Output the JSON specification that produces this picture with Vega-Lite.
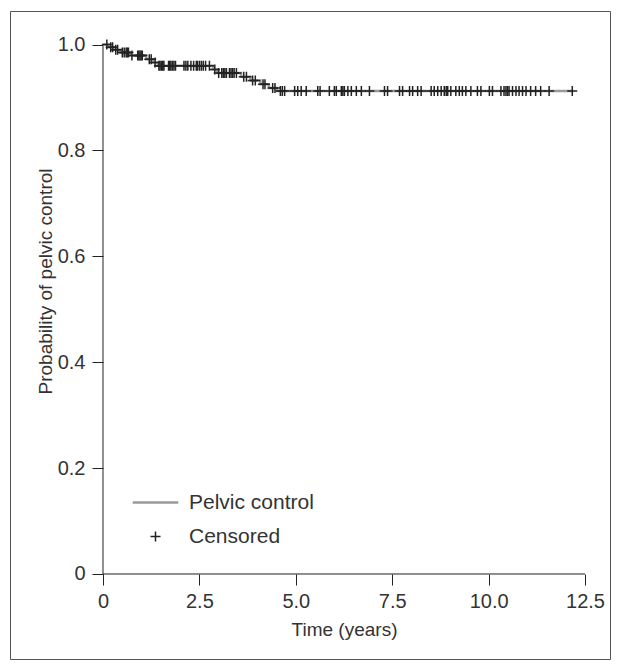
{
  "$schema": "https://vega.github.io/schema/vega-lite/v6.json",
  "width": 600,
  "height": 648,
  "autosize": {"type": "none"},
  "padding": {"left": 10, "top": 11, "right": 10, "bottom": 9},
  "background": "white",
  "config": {
    "view": {"stroke": "#555555", "strokeWidth": 1},
    "font": "Liberation Sans",
    "axis": {
      "grid": false,
      "domain": false,
      "tickColor": "#222222",
      "tickSize": 11,
      "tickWidth": 1,
      "labelFont": "Liberation Sans",
      "labelFontSize": 20,
      "labelColor": "#333333",
      "titleFont": "Liberation Sans",
      "titleFontSize": 19,
      "titleFontWeight": "normal",
      "titleColor": "#333333"
    },
    "legend": {
      "labelFont": "Liberation Sans",
      "labelFontSize": 21,
      "labelColor": "#333333",
      "symbolStrokeWidth": 1.5,
      "symbolSize": 100,
      "padding": 0
    }
  },
  "datasets": {
    "curve": [
      {"t": 0, "s": 1.0},
      {"t": 0.14, "s": 0.995},
      {"t": 0.3, "s": 0.99},
      {"t": 0.45, "s": 0.985},
      {"t": 0.7, "s": 0.979},
      {"t": 1.12, "s": 0.972},
      {"t": 1.3, "s": 0.966},
      {"t": 1.42, "s": 0.96},
      {"t": 2.85, "s": 0.953},
      {"t": 2.96, "s": 0.946},
      {"t": 3.58, "s": 0.939},
      {"t": 3.82, "s": 0.932},
      {"t": 4.08, "s": 0.925},
      {"t": 4.3, "s": 0.918},
      {"t": 4.52, "s": 0.912},
      {"t": 12.2, "s": 0.912}
    ],
    "censor": [
      {"t": 0.1, "s": 1.0, "series": "Censored"},
      {"t": 0.2, "s": 0.995, "series": "Censored"},
      {"t": 0.25, "s": 0.995, "series": "Censored"},
      {"t": 0.33, "s": 0.99, "series": "Censored"},
      {"t": 0.38, "s": 0.99, "series": "Censored"},
      {"t": 0.5, "s": 0.985, "series": "Censored"},
      {"t": 0.55, "s": 0.985, "series": "Censored"},
      {"t": 0.6, "s": 0.985, "series": "Censored"},
      {"t": 0.63, "s": 0.985, "series": "Censored"},
      {"t": 0.66, "s": 0.985, "series": "Censored"},
      {"t": 0.75, "s": 0.979, "series": "Censored"},
      {"t": 0.9, "s": 0.979, "series": "Censored"},
      {"t": 0.93, "s": 0.979, "series": "Censored"},
      {"t": 0.96, "s": 0.979, "series": "Censored"},
      {"t": 0.99, "s": 0.979, "series": "Censored"},
      {"t": 1.02, "s": 0.979, "series": "Censored"},
      {"t": 1.2, "s": 0.972, "series": "Censored"},
      {"t": 1.25, "s": 0.972, "series": "Censored"},
      {"t": 1.35, "s": 0.966, "series": "Censored"},
      {"t": 1.45, "s": 0.96, "series": "Censored"},
      {"t": 1.48, "s": 0.96, "series": "Censored"},
      {"t": 1.52, "s": 0.96, "series": "Censored"},
      {"t": 1.55, "s": 0.96, "series": "Censored"},
      {"t": 1.58, "s": 0.96, "series": "Censored"},
      {"t": 1.7, "s": 0.96, "series": "Censored"},
      {"t": 1.73, "s": 0.96, "series": "Censored"},
      {"t": 1.76, "s": 0.96, "series": "Censored"},
      {"t": 1.8, "s": 0.96, "series": "Censored"},
      {"t": 1.84, "s": 0.96, "series": "Censored"},
      {"t": 1.88, "s": 0.96, "series": "Censored"},
      {"t": 2.1, "s": 0.96, "series": "Censored"},
      {"t": 2.15, "s": 0.96, "series": "Censored"},
      {"t": 2.2, "s": 0.96, "series": "Censored"},
      {"t": 2.28, "s": 0.96, "series": "Censored"},
      {"t": 2.35, "s": 0.96, "series": "Censored"},
      {"t": 2.42, "s": 0.96, "series": "Censored"},
      {"t": 2.45, "s": 0.96, "series": "Censored"},
      {"t": 2.5, "s": 0.96, "series": "Censored"},
      {"t": 2.55, "s": 0.96, "series": "Censored"},
      {"t": 2.6, "s": 0.96, "series": "Censored"},
      {"t": 2.66, "s": 0.96, "series": "Censored"},
      {"t": 2.76, "s": 0.96, "series": "Censored"},
      {"t": 2.9, "s": 0.953, "series": "Censored"},
      {"t": 3.0, "s": 0.946, "series": "Censored"},
      {"t": 3.08, "s": 0.946, "series": "Censored"},
      {"t": 3.12, "s": 0.946, "series": "Censored"},
      {"t": 3.16, "s": 0.946, "series": "Censored"},
      {"t": 3.2, "s": 0.946, "series": "Censored"},
      {"t": 3.28, "s": 0.946, "series": "Censored"},
      {"t": 3.32, "s": 0.946, "series": "Censored"},
      {"t": 3.36, "s": 0.946, "series": "Censored"},
      {"t": 3.4, "s": 0.946, "series": "Censored"},
      {"t": 3.46, "s": 0.946, "series": "Censored"},
      {"t": 3.65, "s": 0.939, "series": "Censored"},
      {"t": 3.72, "s": 0.939, "series": "Censored"},
      {"t": 3.88, "s": 0.932, "series": "Censored"},
      {"t": 3.95, "s": 0.932, "series": "Censored"},
      {"t": 4.15, "s": 0.925, "series": "Censored"},
      {"t": 4.2, "s": 0.925, "series": "Censored"},
      {"t": 4.4, "s": 0.918, "series": "Censored"},
      {"t": 4.46, "s": 0.918, "series": "Censored"},
      {"t": 4.6, "s": 0.912, "series": "Censored"},
      {"t": 4.65, "s": 0.912, "series": "Censored"},
      {"t": 4.71, "s": 0.912, "series": "Censored"},
      {"t": 4.97, "s": 0.912, "series": "Censored"},
      {"t": 5.05, "s": 0.912, "series": "Censored"},
      {"t": 5.14, "s": 0.912, "series": "Censored"},
      {"t": 5.27, "s": 0.912, "series": "Censored"},
      {"t": 5.57, "s": 0.912, "series": "Censored"},
      {"t": 5.63, "s": 0.912, "series": "Censored"},
      {"t": 5.87, "s": 0.912, "series": "Censored"},
      {"t": 6.0, "s": 0.912, "series": "Censored"},
      {"t": 6.05, "s": 0.912, "series": "Censored"},
      {"t": 6.18, "s": 0.912, "series": "Censored"},
      {"t": 6.22, "s": 0.912, "series": "Censored"},
      {"t": 6.26, "s": 0.912, "series": "Censored"},
      {"t": 6.35, "s": 0.912, "series": "Censored"},
      {"t": 6.44, "s": 0.912, "series": "Censored"},
      {"t": 6.57, "s": 0.912, "series": "Censored"},
      {"t": 6.7, "s": 0.912, "series": "Censored"},
      {"t": 6.91, "s": 0.912, "series": "Censored"},
      {"t": 7.3, "s": 0.912, "series": "Censored"},
      {"t": 7.38, "s": 0.912, "series": "Censored"},
      {"t": 7.69, "s": 0.912, "series": "Censored"},
      {"t": 7.77, "s": 0.912, "series": "Censored"},
      {"t": 7.95, "s": 0.912, "series": "Censored"},
      {"t": 8.03, "s": 0.912, "series": "Censored"},
      {"t": 8.16, "s": 0.912, "series": "Censored"},
      {"t": 8.25, "s": 0.912, "series": "Censored"},
      {"t": 8.51, "s": 0.912, "series": "Censored"},
      {"t": 8.59, "s": 0.912, "series": "Censored"},
      {"t": 8.68, "s": 0.912, "series": "Censored"},
      {"t": 8.77, "s": 0.912, "series": "Censored"},
      {"t": 8.85, "s": 0.912, "series": "Censored"},
      {"t": 8.9, "s": 0.912, "series": "Censored"},
      {"t": 8.94, "s": 0.912, "series": "Censored"},
      {"t": 9.02, "s": 0.912, "series": "Censored"},
      {"t": 9.15, "s": 0.912, "series": "Censored"},
      {"t": 9.24, "s": 0.912, "series": "Censored"},
      {"t": 9.32, "s": 0.912, "series": "Censored"},
      {"t": 9.41, "s": 0.912, "series": "Censored"},
      {"t": 9.54, "s": 0.912, "series": "Censored"},
      {"t": 9.71, "s": 0.912, "series": "Censored"},
      {"t": 9.8, "s": 0.912, "series": "Censored"},
      {"t": 10.02, "s": 0.912, "series": "Censored"},
      {"t": 10.1, "s": 0.912, "series": "Censored"},
      {"t": 10.32, "s": 0.912, "series": "Censored"},
      {"t": 10.4, "s": 0.912, "series": "Censored"},
      {"t": 10.45, "s": 0.912, "series": "Censored"},
      {"t": 10.49, "s": 0.912, "series": "Censored"},
      {"t": 10.53, "s": 0.912, "series": "Censored"},
      {"t": 10.62, "s": 0.912, "series": "Censored"},
      {"t": 10.71, "s": 0.912, "series": "Censored"},
      {"t": 10.79, "s": 0.912, "series": "Censored"},
      {"t": 10.88, "s": 0.912, "series": "Censored"},
      {"t": 10.97, "s": 0.912, "series": "Censored"},
      {"t": 11.09, "s": 0.912, "series": "Censored"},
      {"t": 11.22, "s": 0.912, "series": "Censored"},
      {"t": 11.35, "s": 0.912, "series": "Censored"},
      {"t": 11.57, "s": 0.912, "series": "Censored"},
      {"t": 12.17, "s": 0.912, "series": "Censored"}
    ]
  },
  "layer": [
    {
      "data": {"values": [{}]},
      "mark": {"type": "rule", "color": "#222222", "strokeWidth": 1},
      "encoding": {"x": {"datum": 0}, "y": {"datum": 0}, "y2": {"datum": 1}}
    },
    {
      "data": {"values": [{}]},
      "mark": {"type": "rule", "color": "#222222", "strokeWidth": 1},
      "encoding": {"x": {"datum": 0}, "x2": {"datum": 12.5}, "y": {"datum": 0}}
    },
    {
      "data": {"name": "curve"},
      "mark": {"type": "line", "interpolate": "step-after", "color": "#9a9a9a", "strokeWidth": 2.5},
      "encoding": {
        "x": {
          "field": "t",
          "type": "quantitative",
          "scale": {"domain": [-2.4118, 13.1483], "nice": false, "zero": false},
          "axis": {
            "values": [0, 2.5, 5, 7.5, 10, 12.5],
            "labelExpr": "datum.value == 0 ? '0' : format(datum.value, '.1f')",
            "offset": -85,
            "labelPadding": 6,
            "title": "Time (years)",
            "titleX": 334,
            "titleY": 61,
            "titleBaseline": "alphabetic",
            "titleAlign": "center"
          }
        },
        "y": {
          "field": "s",
          "type": "quantitative",
          "scale": {"domain": [-0.16053, 1.06327], "nice": false, "zero": false},
          "axis": {
            "values": [0, 0.2, 0.4, 0.6, 0.8, 1],
            "labelExpr": "datum.value == 0 ? '0' : format(datum.value, '.1f')",
            "offset": -93,
            "labelPadding": 7,
            "title": "Probability of pelvic control",
            "titleX": -52,
            "titleY": 270,
            "titleAngle": -90,
            "titleBaseline": "alphabetic",
            "titleAlign": "center"
          }
        }
      }
    },
    {
      "data": {"name": "censor"},
      "mark": {"type": "point", "filled": false, "strokeWidth": 1.5, "size": 100, "opacity": 1},
      "encoding": {
        "x": {"field": "t", "type": "quantitative"},
        "y": {"field": "s", "type": "quantitative"},
        "shape": {
          "field": "series",
          "type": "nominal",
          "scale": {
            "domain": ["Pelvic control", "Censored"],
            "range": ["M-4.56,-0.1H4.56M-4.56,0.1H4.56", "M-1,0H1M0,-1V1"]
          },
          "legend": {"title": null, "orient": "none", "legendX": 135, "legendY": 481, "labelOffset": 23, "rowPadding": 12}
        },
        "color": {
          "field": "series",
          "type": "nominal",
          "scale": {"domain": ["Pelvic control", "Censored"], "range": ["#9a9a9a", "#222222"]},
          "legend": {"title": null, "orient": "none", "legendX": 135, "legendY": 481, "labelOffset": 23, "rowPadding": 12}
        }
      }
    }
  ]
}
